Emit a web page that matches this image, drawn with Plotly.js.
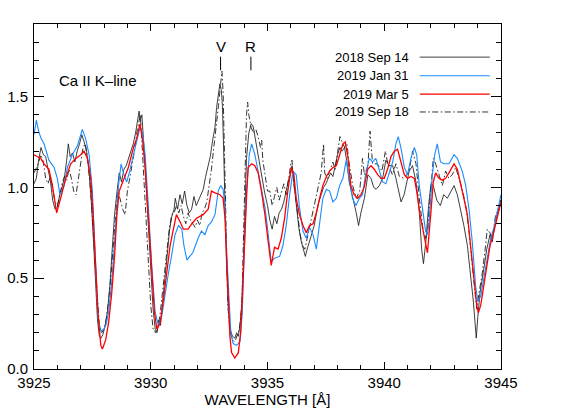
<!DOCTYPE html>
<html>
<head>
<meta charset="utf-8">
<script src="https://cdn.plot.ly/plotly-3.0.1.min.js"></script>
<style>html,body{margin:0;padding:0;background:#fff}#chart{width:570px;height:420px}</style>
</head>
<body>
<div id="chart"></div>
<script>
// ---- data ----
const seriesNames = ['2018 Sep 14', '2019 Jan 31', '2019 Mar 5', '2019 Sep 18'];

const wl_sep14 = [3925.0,3925.1,3925.2,3925.3,3925.4,3925.5,3925.6,3925.7,3925.8,3925.9,3926.0,3926.1,3926.2,3926.3,3926.4,3926.47,3926.55,3926.65,3926.75,3926.85,3926.95,3927.05,3927.15,3927.25,3927.35,3927.45,3927.55,3927.65,3927.72,3927.8,3927.87,3927.95,3928.05,3928.15,3928.25,3928.35,3928.45,3928.55,3928.65,3928.75,3928.85,3928.95,3929.05,3929.15,3929.25,3929.35,3929.45,3929.5,3929.55,3929.62,3929.7,3929.8,3929.9,3930.0,3930.1,3930.2,3930.27,3930.35,3930.42,3930.5,3930.6,3930.7,3930.8,3930.9,3931.0,3931.05,3931.15,3931.25,3931.35,3931.45,3931.55,3931.65,3931.75,3931.85,3931.95,3932.05,3932.15,3932.25,3932.35,3932.45,3932.55,3932.65,3932.75,3932.82,3932.9,3932.96,3933.02,3933.07,3933.12,3933.18,3933.24,3933.32,3933.4,3933.5,3933.6,3933.68,3933.75,3933.83,3933.9,3933.96,3934.03,3934.1,3934.2,3934.3,3934.38,3934.46,3934.55,3934.65,3934.75,3934.88,3935.0,3935.1,3935.2,3935.3,3935.4,3935.5,3935.6,3935.7,3935.8,3935.9,3936.0,3936.05,3936.15,3936.25,3936.35,3936.45,3936.55,3936.62,3936.7,3936.8,3936.9,3937.0,3937.1,3937.2,3937.3,3937.4,3937.5,3937.6,3937.7,3937.8,3937.9,3938.0,3938.1,3938.2,3938.3,3938.4,3938.5,3938.65,3938.8,3938.9,3939.0,3939.15,3939.3,3939.43,3939.55,3939.65,3939.79,3939.93,3940.07,3940.2,3940.36,3940.5,3940.62,3940.72,3940.85,3940.95,3941.07,3941.21,3941.36,3941.5,3941.6,3941.68,3941.78,3941.9,3942.0,3942.1,3942.25,3942.4,3942.55,3942.7,3942.85,3942.99,3943.13,3943.27,3943.41,3943.56,3943.7,3943.81,3943.88,3943.94,3944.01,3944.1,3944.24,3944.39,3944.53,3944.63,3944.73,3944.87,3945.0];
const fx_sep14 = [1.02,1.05,1.15,1.22,1.18,1.17,1.10,1.04,0.93,0.88,0.89,0.96,1.00,1.05,1.15,1.24,1.17,1.19,1.14,1.20,1.24,1.29,1.25,1.20,1.10,0.93,0.70,0.44,0.27,0.18,0.17,0.19,0.24,0.32,0.46,0.66,0.85,0.97,1.08,1.03,1.10,1.12,1.16,1.20,1.24,1.30,1.37,1.42,1.37,1.40,1.24,1.02,0.80,0.55,0.33,0.21,0.20,0.27,0.24,0.36,0.48,0.62,0.76,0.84,0.88,0.94,0.88,0.96,0.91,0.98,0.90,0.86,0.88,0.95,0.90,0.93,0.97,0.99,1.06,1.12,1.17,1.26,1.33,1.44,1.52,1.57,1.54,1.45,1.22,0.90,0.60,0.34,0.22,0.18,0.17,0.20,0.18,0.25,0.36,0.55,0.87,1.16,1.30,1.35,1.34,1.28,1.22,1.13,1.05,0.97,0.90,0.82,0.77,0.84,0.80,0.86,0.88,0.92,0.98,1.04,1.08,1.12,1.00,0.88,0.77,0.70,0.65,0.62,0.66,0.70,0.74,0.79,0.86,0.92,0.96,1.00,1.02,1.05,1.08,1.06,1.12,1.18,1.22,1.20,1.22,1.14,1.03,0.95,0.86,0.79,0.86,0.94,1.07,1.05,1.00,0.99,1.01,1.05,1.15,1.12,1.12,1.05,0.98,0.92,0.96,1.02,1.09,1.12,1.03,0.87,0.66,0.58,0.70,0.90,1.02,1.01,0.93,0.90,0.96,0.94,0.98,1.01,0.96,0.88,0.79,0.68,0.53,0.38,0.27,0.17,0.29,0.42,0.53,0.66,0.74,0.70,0.79,0.87,0.93];

const wl_jan31 = [3925.0,3925.1,3925.2,3925.3,3925.43,3925.64,3925.86,3926.0,3926.11,3926.29,3926.43,3926.64,3926.86,3927.07,3927.21,3927.36,3927.5,3927.57,3927.64,3927.74,3927.86,3928.0,3928.1,3928.2,3928.33,3928.45,3928.55,3928.62,3928.73,3928.83,3928.97,3929.1,3929.26,3929.4,3929.54,3929.65,3929.76,3929.9,3930.04,3930.19,3930.33,3930.47,3930.61,3930.76,3930.9,3931.04,3931.19,3931.33,3931.42,3931.55,3931.67,3931.8,3932.03,3932.17,3932.32,3932.46,3932.6,3932.75,3932.89,3932.99,3933.1,3933.18,3933.25,3933.34,3933.43,3933.53,3933.67,3933.82,3933.92,3934.0,3934.1,3934.22,3934.32,3934.46,3934.6,3934.75,3934.89,3934.98,3935.08,3935.16,3935.3,3935.52,3935.66,3935.8,3935.95,3936.09,3936.23,3936.37,3936.52,3936.66,3936.8,3936.95,3937.09,3937.23,3937.37,3937.52,3937.66,3937.8,3937.95,3938.09,3938.23,3938.37,3938.5,3938.64,3938.79,3938.93,3939.07,3939.2,3939.36,3939.5,3939.64,3939.79,3939.93,3940.07,3940.2,3940.36,3940.5,3940.6,3940.71,3940.86,3941.0,3941.14,3941.29,3941.39,3941.5,3941.64,3941.77,3941.85,3941.93,3942.06,3942.16,3942.27,3942.41,3942.56,3942.77,3942.99,3943.13,3943.34,3943.49,3943.63,3943.77,3943.91,3944.01,3944.13,3944.27,3944.41,3944.56,3944.7,3944.84,3945.0];
const fx_jan31 = [1.29,1.37,1.31,1.27,1.24,1.15,1.11,1.05,0.96,1.01,1.11,1.18,1.23,1.32,1.27,1.18,0.98,0.79,0.52,0.28,0.21,0.22,0.25,0.32,0.48,0.72,0.92,1.01,1.13,1.08,1.03,1.09,1.18,1.26,1.33,1.30,1.18,0.89,0.57,0.31,0.24,0.29,0.42,0.53,0.63,0.74,0.79,0.77,0.68,0.60,0.62,0.64,0.72,0.76,0.74,0.79,0.81,0.85,0.98,1.01,0.99,0.89,0.64,0.39,0.20,0.14,0.13,0.15,0.31,0.64,0.98,1.18,1.24,1.18,1.09,0.99,0.89,0.80,0.66,0.59,0.61,0.62,0.68,0.79,0.96,1.09,1.07,0.89,0.76,0.72,0.78,0.74,0.66,0.79,0.94,0.99,0.98,0.92,0.94,1.01,1.05,1.15,1.05,0.94,0.90,0.94,0.96,1.07,1.16,1.14,1.16,1.09,1.03,1.02,1.07,1.14,1.24,1.28,1.22,1.11,1.07,1.16,1.22,1.18,1.01,0.87,0.76,0.74,0.83,1.07,1.18,1.24,1.14,1.13,1.13,1.18,1.16,1.09,1.01,0.88,0.70,0.46,0.37,0.40,0.50,0.61,0.72,0.78,0.87,0.96];

const wl_mar05 = [3925.0,3925.14,3925.29,3925.43,3925.64,3925.79,3925.97,3926.14,3926.36,3926.57,3926.79,3927.0,3927.14,3927.29,3927.43,3927.54,3927.64,3927.74,3927.86,3927.93,3928.07,3928.2,3928.33,3928.45,3928.55,3928.65,3928.8,3929.04,3929.26,3929.4,3929.54,3929.65,3929.76,3929.9,3930.04,3930.16,3930.26,3930.4,3930.54,3930.69,3930.83,3930.97,3931.1,3931.26,3931.4,3931.6,3931.76,3931.96,3932.24,3932.46,3932.6,3932.75,3932.96,3933.1,3933.18,3933.25,3933.32,3933.39,3933.46,3933.6,3933.75,3933.85,3933.93,3934.0,3934.1,3934.17,3934.32,3934.46,3934.6,3934.74,3934.89,3935.03,3935.16,3935.3,3935.45,3935.59,3935.73,3935.87,3936.02,3936.13,3936.23,3936.37,3936.52,3936.66,3936.8,3936.95,3937.09,3937.23,3937.37,3937.52,3937.66,3937.8,3937.95,3938.09,3938.23,3938.33,3938.45,3938.57,3938.71,3938.86,3939.0,3939.14,3939.29,3939.43,3939.57,3939.72,3939.86,3940.0,3940.14,3940.29,3940.43,3940.57,3940.71,3940.86,3941.0,3941.14,3941.29,3941.39,3941.53,3941.67,3941.85,3941.99,3942.1,3942.2,3942.34,3942.49,3942.63,3942.77,3942.99,3943.13,3943.27,3943.41,3943.56,3943.7,3943.84,3943.96,3944.03,3944.13,3944.24,3944.39,3944.53,3944.7,3944.84,3945.0];
const fx_mar05 = [1.18,1.17,1.16,1.13,1.10,1.01,0.86,0.94,1.05,1.13,1.16,1.18,1.20,1.16,1.05,0.83,0.57,0.31,0.13,0.11,0.16,0.26,0.42,0.62,0.85,0.98,1.03,1.11,1.22,1.27,1.35,1.26,1.11,0.83,0.53,0.31,0.22,0.25,0.38,0.55,0.68,0.77,0.85,0.81,0.77,0.77,0.80,0.83,0.85,0.88,0.98,0.97,0.96,0.94,0.83,0.61,0.39,0.18,0.09,0.06,0.09,0.20,0.42,0.68,0.94,1.11,1.13,1.12,1.08,0.98,0.85,0.70,0.57,0.67,0.66,0.72,0.83,0.98,1.11,1.07,0.94,0.85,0.79,0.75,0.79,0.80,0.86,0.94,1.01,1.06,1.09,1.11,1.12,1.18,1.24,1.25,1.16,1.01,0.96,0.94,0.96,1.00,1.10,1.12,1.10,1.07,1.05,1.05,1.10,1.17,1.20,1.21,1.14,1.07,1.05,1.06,1.05,0.98,0.85,0.76,0.64,0.85,1.03,1.08,1.05,1.04,1.05,1.08,1.13,1.10,1.01,0.94,0.85,0.66,0.48,0.35,0.31,0.35,0.44,0.57,0.68,0.76,0.83,0.92];

const wl_sep18 = [3925.0,3925.15,3925.3,3925.4,3925.5,3925.6,3925.7,3925.8,3925.9,3926.0,3926.1,3926.2,3926.3,3926.4,3926.5,3926.6,3926.7,3926.8,3926.9,3927.0,3927.1,3927.2,3927.3,3927.4,3927.5,3927.6,3927.7,3927.8,3927.9,3928.0,3928.1,3928.2,3928.3,3928.4,3928.5,3928.6,3928.7,3928.8,3928.9,3929.0,3929.1,3929.2,3929.3,3929.4,3929.5,3929.55,3929.6,3929.7,3929.8,3929.9,3930.0,3930.1,3930.2,3930.3,3930.4,3930.5,3930.6,3930.7,3930.8,3930.9,3931.0,3931.1,3931.2,3931.3,3931.4,3931.5,3931.6,3931.7,3931.8,3931.9,3932.0,3932.1,3932.2,3932.3,3932.4,3932.5,3932.6,3932.7,3932.8,3932.9,3933.0,3933.05,3933.1,3933.15,3933.2,3933.25,3933.3,3933.4,3933.5,3933.6,3933.7,3933.8,3933.9,3933.95,3934.0,3934.05,3934.1,3934.15,3934.2,3934.3,3934.4,3934.5,3934.6,3934.7,3934.75,3934.8,3934.9,3935.0,3935.1,3935.2,3935.3,3935.4,3935.5,3935.6,3935.7,3935.8,3935.9,3936.0,3936.05,3936.1,3936.2,3936.3,3936.4,3936.5,3936.6,3936.7,3936.8,3936.9,3937.0,3937.1,3937.2,3937.3,3937.4,3937.45,3937.55,3937.7,3937.8,3937.9,3938.0,3938.1,3938.2,3938.3,3938.4,3938.5,3938.65,3938.8,3938.95,3939.07,3939.15,3939.3,3939.39,3939.5,3939.7,3939.9,3940.05,3940.15,3940.35,3940.5,3940.65,3940.85,3941.07,3941.21,3941.36,3941.5,3941.67,3941.78,3941.85,3941.99,3942.1,3942.2,3942.34,3942.49,3942.63,3942.77,3942.91,3943.06,3943.2,3943.34,3943.49,3943.63,3943.77,3943.87,3943.96,3944.06,3944.2,3944.34,3944.41,3944.53,3944.63,3944.77,3944.91,3945.0];
const fx_sep18 = [1.08,1.12,1.18,1.14,1.05,1.02,1.06,0.98,0.92,0.90,0.95,1.02,1.06,1.04,1.10,1.05,0.98,0.96,1.05,1.15,1.22,1.24,1.15,1.02,0.85,0.62,0.40,0.24,0.20,0.22,0.28,0.38,0.52,0.70,0.85,0.98,0.93,0.88,0.85,0.98,1.05,1.12,1.20,1.30,1.38,1.40,1.30,1.05,0.80,0.55,0.35,0.22,0.20,0.22,0.30,0.42,0.55,0.68,0.78,0.85,0.86,0.90,0.86,0.90,0.84,0.80,0.86,0.82,0.80,0.78,0.82,0.79,0.86,0.88,0.92,1.00,1.10,1.22,1.32,1.45,1.58,1.64,1.52,1.20,0.82,0.55,0.35,0.20,0.16,0.15,0.18,0.22,0.35,0.60,0.95,1.25,1.40,1.47,1.40,1.33,1.30,1.32,1.28,1.22,1.26,1.15,1.05,0.98,0.98,0.90,0.95,1.00,0.93,0.98,1.02,0.96,1.05,1.13,1.15,1.05,0.95,0.85,0.74,0.68,0.66,0.72,0.78,0.85,0.90,0.96,1.02,1.08,1.24,1.08,1.05,1.10,1.14,1.10,1.20,1.28,1.25,1.22,1.24,1.13,1.01,0.94,0.98,1.16,1.07,1.12,1.31,1.13,1.13,1.09,1.20,1.13,1.07,1.13,1.06,1.05,1.09,1.20,1.13,0.94,0.76,0.72,0.76,0.99,1.16,1.13,1.07,1.01,1.09,1.05,1.07,1.11,1.05,0.99,0.90,0.76,0.57,0.44,0.33,0.42,0.53,0.68,0.77,0.75,0.72,0.85,0.88,0.94];

const markerLabels = ['V', 'R'];
const markerWl = [3932.99, 3934.29];
const lineLabel = 'Ca II K\u2013line';
const xTitle = 'WAVELENGTH [\u00C5]';

// ---- styles ----
const FONT = 'Liberation Sans, Arial, Helvetica, sans-serif';
const colors = ['#1c1c1c', '#1a8cff', '#ff0000', '#1c1c1c'];
const dashes = ['solid', 'solid', 'solid', '6px,2.5px,1.5px,2.5px'];
const widths = [0.85, 1.1, 1.3, 0.9];

const xs = [wl_sep14, wl_jan31, wl_mar05, wl_sep18];
const ys = [fx_sep14, fx_jan31, fx_mar05, fx_sep18];
const order = [0, 3, 1, 2];

const traces = order.map(i => ({
  type: 'scatter', mode: 'lines', x: xs[i], y: ys[i], name: seriesNames[i],
  line: {color: colors[i], width: widths[i], dash: dashes[i]},
  showlegend: false, hoverinfo: 'skip'
}));

const annotations = [];
const shapes = [];

annotations.push({x: 3925.97, y: 1.59, xref: 'x', yref: 'y', text: lineLabel, showarrow: false,
  xanchor: 'left', yanchor: 'middle', font: {family: FONT, size: 15, color: '#000'}});

markerLabels.forEach((t, k) => {
  annotations.push({x: markerWl[k], y: 1.775, xref: 'x', yref: 'y', text: t, showarrow: false,
    xanchor: 'center', yanchor: 'middle', font: {family: FONT, size: 15, color: '#000'}});
  shapes.push({type: 'line', xref: 'x', yref: 'y', x0: markerWl[k], x1: markerWl[k], y0: 1.645, y1: 1.72,
    line: {color: '#000', width: 1}});
});

// legend (text left, line sample right)
const legY = [0.904, 0.850, 0.797, 0.745];
seriesNames.forEach((n, i) => {
  annotations.push({x: 0.808, y: legY[i], xref: 'paper', yref: 'paper', text: n, showarrow: false,
    xanchor: 'right', yanchor: 'middle', font: {family: FONT, size: 13, color: '#000'}});
  shapes.push({type: 'line', xref: 'paper', yref: 'paper', x0: 0.826, x1: 0.976, y0: legY[i], y1: legY[i],
    line: {color: colors[i], width: widths[i], dash: dashes[i]}});
});

const axisCommon = {
  showline: true, linecolor: '#000', linewidth: 1, mirror: 'allticks',
  ticks: 'inside', tickcolor: '#000', tickwidth: 1,
  showgrid: false, zeroline: false,
  tickfont: {family: FONT, size: 15, color: '#000'}
};

const layout = {
  width: 570, height: 420,
  margin: {l: 34, r: 69, t: 24, b: 51, pad: 0},
  paper_bgcolor: '#fff', plot_bgcolor: '#fff',
  showlegend: false,
  xaxis: Object.assign({}, axisCommon, {
    range: [3925, 3945], tick0: 3925, dtick: 5, ticklen: 7,
    minor: {dtick: 1, ticklen: 4, ticks: 'inside', tickcolor: '#000', tickwidth: 1, showgrid: false},
    title: {text: xTitle, font: {family: FONT, size: 15, color: '#000'}, standoff: 2}
  }),
  yaxis: Object.assign({}, axisCommon, {
    range: [0, 1.9], tick0: 0, dtick: 0.5, ticklen: 10, tickformat: '.1f',
    minor: {dtick: 0.1, ticklen: 5, ticks: 'inside', tickcolor: '#000', tickwidth: 1, showgrid: false},
    ticklabelstandoff: 2
  }),
  annotations: annotations,
  shapes: shapes
};

Plotly.newPlot('chart', traces, layout, {staticPlot: true, displayModeBar: false});
</script>
</body>
</html>
